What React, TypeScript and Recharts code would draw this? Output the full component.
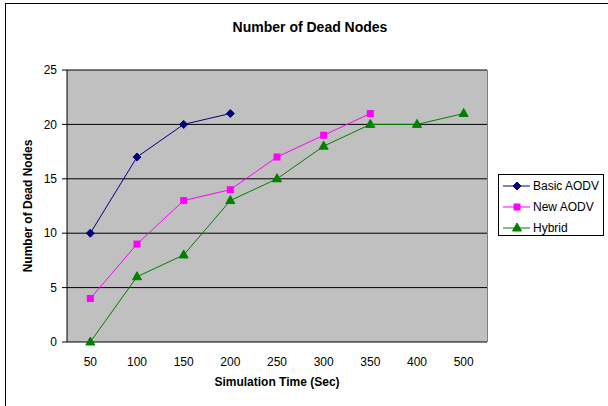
import React from "react";
import {
  LineChart,
  Line,
  XAxis,
  YAxis,
  CartesianGrid,
} from "recharts";

const times = ["50", "100", "150", "200", "250", "300", "350", "400", "500"];
const basicAodv = [10, 17, 20, 21];
const newAodv = [4, 9, 13, 14, 17, 19, 21];
const hybrid = [0, 6, 8, 13, 15, 18, 20, 20, 21];
const yTicks = [0, 5, 10, 15, 20, 25];
const boundaryTicks = [0, 1, 2, 3, 4, 5, 6, 7, 8, 9];

const series = [
  { key: "basic", name: "Basic AODV", color: "#000080", marker: "diamond" },
  { key: "newAodv", name: "New AODV", color: "#FF00FF", marker: "square" },
  { key: "hybrid", name: "Hybrid", color: "#008000", marker: "triangle" },
];

const data = times.map((time, i) => ({
  time,
  basic: basicAodv[i],
  newAodv: newAodv[i],
  hybrid: hybrid[i],
}));

const FONT = '"Liberation Sans", Arial, sans-serif';

function Marker({ type, cx, cy, color }: { type: string; cx: number; cy: number; color: string }) {
  if (type === "diamond") {
    return (
      <path
        d={`M${cx},${cy - 4} L${cx + 4},${cy} L${cx},${cy + 4} L${cx - 4},${cy} Z`}
        fill={color}
        stroke={color}
      />
    );
  }
  if (type === "square") {
    return <rect x={cx - 3.5} y={cy - 3.5} width={7} height={7} fill={color} />;
  }
  return (
    <path
      d={`M${cx},${cy - 5} L${cx + 4.5},${cy + 3} L${cx - 4.5},${cy + 3} Z`}
      fill={color}
      stroke={color}
    />
  );
}

const makeDot = (type: string, color: string) => (props: any) => {
  const { cx, cy, index } = props;
  if (cx == null || cy == null || props.value == null) return <g key={`d-${index}`} />;
  return (
    <g key={`d-${index}`}>
      <Marker type={type} cx={cx} cy={cy} color={color} />
    </g>
  );
};

export default function App() {
  return (
    <div
      style={{
        position: "absolute",
        left: 0,
        top: 0,
        width: 608,
        height: 406,
        background: "#fff",
        fontFamily: FONT,
        overflow: "hidden",
      }}
    >
      <div
        style={{
          position: "absolute",
          left: 5,
          top: 3,
          width: 620,
          height: 420,
          borderLeft: "1.5px solid #000",
          borderTop: "1.5px solid #000",
        }}
      />
      <div
        style={{
          position: "absolute",
          left: 0,
          top: 19,
          width: 620,
          textAlign: "center",
          fontWeight: "bold",
          fontSize: 14,
        }}
      >
        Number of Dead Nodes
      </div>
      <LineChart
        width={608}
        height={406}
        data={data}
        margin={{ top: 70, right: 121, left: 0, bottom: 34 }}
        style={{ position: "absolute", left: 0, top: 0 }}
      >
        <CartesianGrid
          xAxisId="cat"
          vertical={false}
          fill="#C0C0C0"
          stroke="#000"
          strokeOpacity={1}
        />
        <XAxis
          xAxisId="grid"
          type="number"
          domain={[0, 9]}
          ticks={boundaryTicks}
          tick={false}
          height={0}
          axisLine={{ stroke: "#000" }}
          tickLine={{ stroke: "#000" }}
          tickSize={5}
        />
        <XAxis
          xAxisId="cat"
          dataKey="time"
          scale="band"
          height={30}
          axisLine={false}
          tickLine={false}
          tickMargin={9}
          tick={{ fill: "#000", fontSize: 12, fontFamily: FONT }}
          interval={0}
        />
        <YAxis
          width={67}
          domain={[0, 25]}
          ticks={yTicks}
          interval={0}
          axisLine={{ stroke: "#000" }}
          tickLine={{ stroke: "#000" }}
          tickSize={5}
          tickMargin={5}
          tick={{ fill: "#000", fontSize: 12, fontFamily: FONT }}
        />
        {series.map((s) => (
          <Line
            key={s.key}
            xAxisId="cat"
            dataKey={s.key}
            name={s.name}
            stroke={s.color}
            strokeWidth={1}
            dot={makeDot(s.marker, s.color)}
            activeDot={false}
            isAnimationActive={false}
            connectNulls={false}
          />
        ))}
      </LineChart>
      <div
        style={{
          position: "absolute",
          left: 487,
          top: 70,
          width: 1,
          height: 272,
          background: "#808080",
        }}
      />
      <div
        style={{
          position: "absolute",
          left: 14,
          top: 206,
          transform: "translate(-50%, -50%) rotate(-90deg)",
          transformOrigin: "center",
          marginLeft: 14,
          fontWeight: "bold",
          fontSize: 12,
          whiteSpace: "nowrap",
        }}
      >
        Number of Dead Nodes
      </div>
      <div
        style={{
          position: "absolute",
          left: 67,
          top: 375,
          width: 420,
          textAlign: "center",
          fontWeight: "bold",
          fontSize: 12,
        }}
      >
        Simulation Time (Sec)
      </div>
      <div
        style={{
          position: "absolute",
          left: 498,
          top: 174,
          width: 106,
          height: 62,
          border: "1px solid #000",
          boxSizing: "border-box",
          background: "#fff",
        }}
      >
        {series.map((s, i) => (
          <div
            key={s.key}
            style={{
              position: "absolute",
              left: 4,
              top: 3 + i * 21,
              height: 16,
              display: "flex",
              alignItems: "center",
              fontSize: 12,
              whiteSpace: "nowrap",
            }}
          >
            <svg width={28} height={16} style={{ marginRight: 2 }}>
              <line x1={0} y1={8} x2={27} y2={8} stroke={s.color} strokeWidth={1} />
              <Marker type={s.marker} cx={14} cy={8} color={s.color} />
            </svg>
            {s.name}
          </div>
        ))}
      </div>
    </div>
  );
}
